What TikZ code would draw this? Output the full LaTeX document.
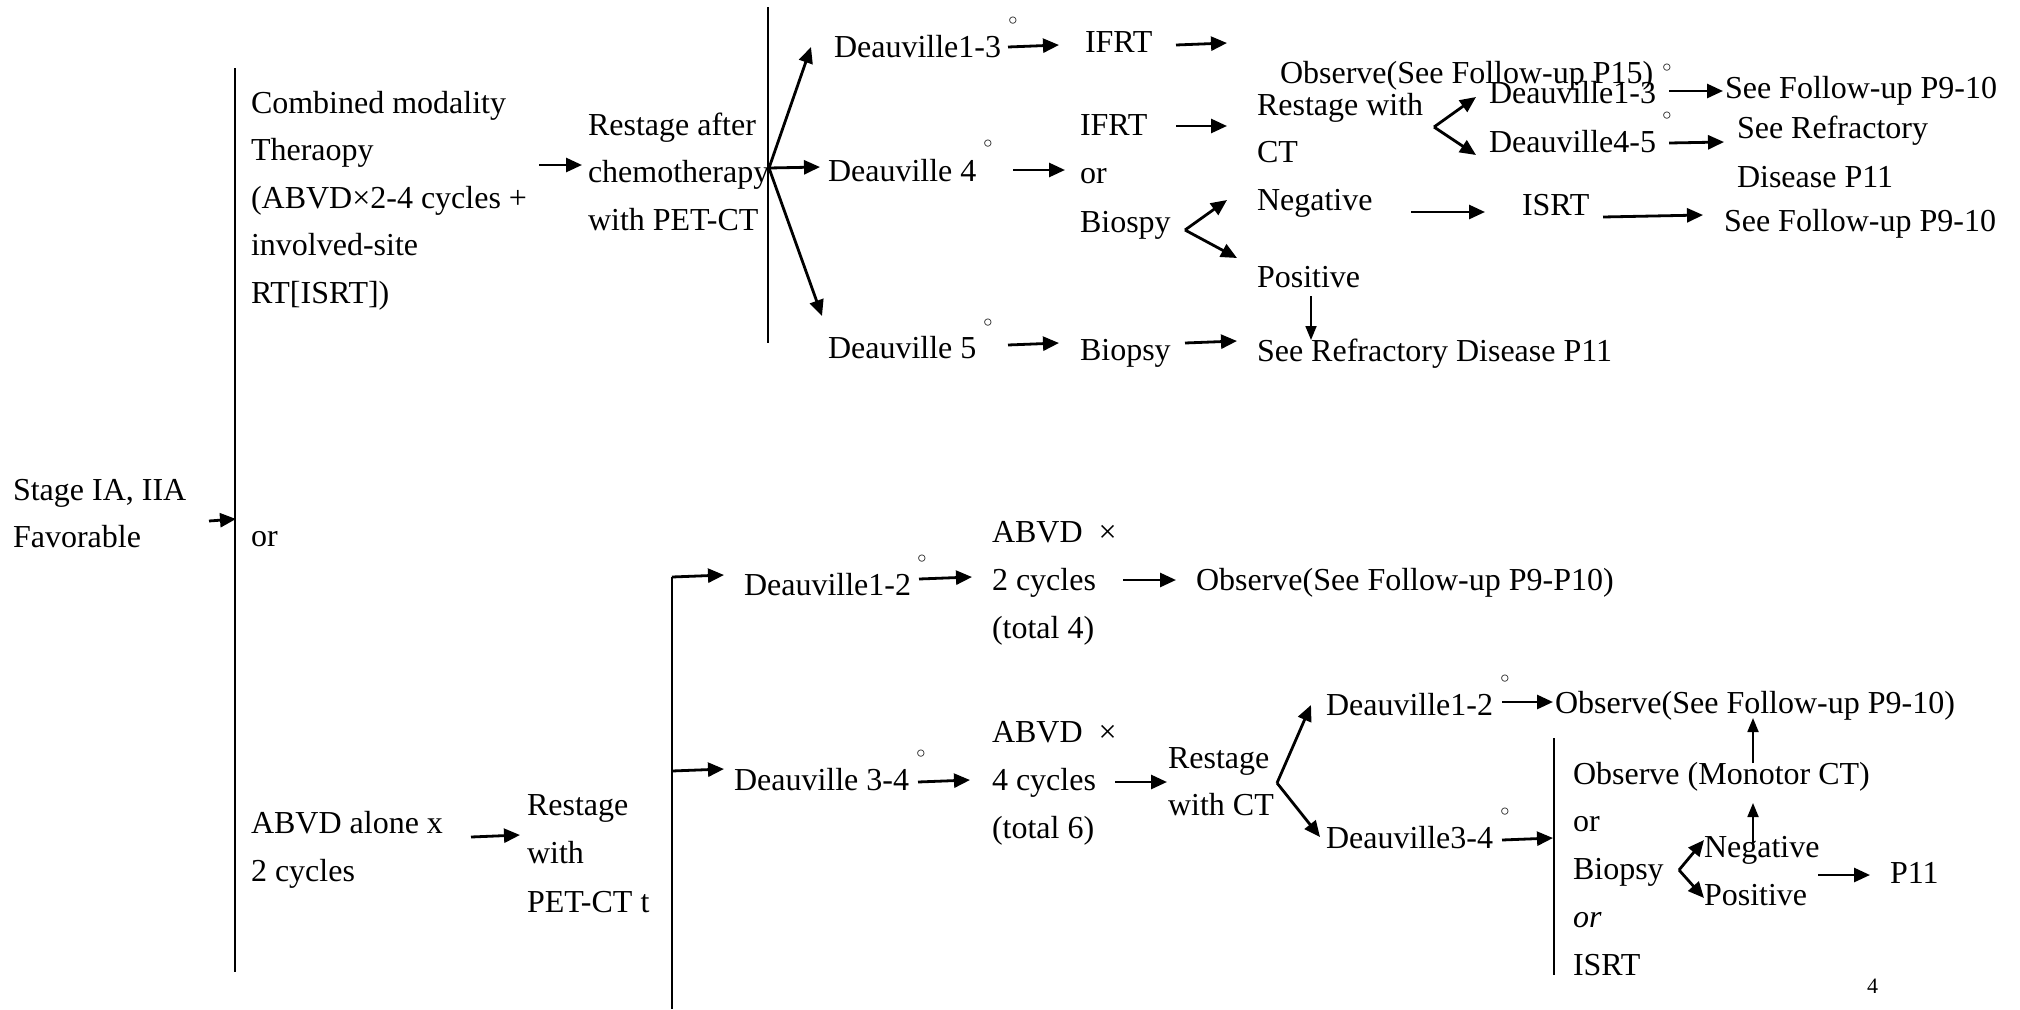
\documentclass[tikz,border=0pt]{standalone}
\usepackage{fontspec}
\setmainfont{Liberation Serif}
\newfontfamily\dotfont{DejaVu Sans}
\usetikzlibrary{arrows.meta}

% a left-aligned block of lines whose baseline is that of its first line
\newcommand\mlines[2]{\fontsize{32}{#1}\selectfont\begin{tabular}[t]{@{}l@{}}#2\end{tabular}}

\tikzset{
  txt/.style={anchor=base west, inner sep=0pt, outer sep=0pt, font=\fontsize{32}{40}\selectfont},
  deg/.style={inner sep=0pt, font=\dotfont\fontsize{24}{24}\selectfont},
  rule/.style={line width=1.6pt},
  arr/.style={line width=2.8pt, -{Triangle[length=16pt,width=14pt]}},
  thinarr/.style={line width=1.8pt, -{Triangle[length=14pt,width=11pt]}},
}

\begin{document}
\begin{tikzpicture}[x=1pt,y=-1pt]
\fill[white] (0,0) rectangle (2020,1009);
\useasboundingbox (0,0) rectangle (2020,1009);

% ---------- left column ----------
\node[txt] (stage) at (13,500) {\mlines{47}{Stage IA, IIA\\Favorable}};
\node[txt] (comb)  at (251,113) {\mlines{47.5}{Combined modality\\Theraopy\\(ABVD×2-4 cycles +\\involved-site\\RT[ISRT])}};
\node[txt] (or1)   at (251,546) {or};
\node[txt] (abvdA) at (251,833) {\mlines{48}{ABVD alone x\\2 cycles}};

% ---------- upper branch ----------
\node[txt] (restA) at (588,135) {\mlines{47.5}{Restage after\\chemotherapy\\with PET-CT}};
\node[txt] (d13)   at (834,57)  {Deauville1-3};
\node[txt] (d4)    at (828,181) {Deauville 4};
\node[txt] (d5)    at (828,358) {Deauville 5};
\node[txt] (ifrtA) at (1085,52) {IFRT};
\node[txt] (ifrtB) at (1080,135) {\mlines{48.5}{IFRT\\or\\Biospy}};
\node[txt] (bio5)  at (1080,360) {Biopsy};
\node[txt] (obs15) at (1280,83) {Observe(See Follow-up P15)};
\node[txt] (restCT) at (1257,115) {\mlines{47}{Restage with\\CT}};
\node[txt] (neg)   at (1257,210) {Negative};
\node[txt] (pos)   at (1257,287) {Positive};
\node[txt] (refrB) at (1257,361) {See Refractory Disease P11};
\node[txt] (d13b)  at (1489,103) {Deauville1-3};
\node[txt] (d45)   at (1489,152) {Deauville4-5};
\node[txt] (isrt)  at (1522,215) {ISRT};
\node[txt] (fu1)   at (1725,98)  {See Follow-up P9-10};
\node[txt] (refrA) at (1737,138) {\mlines{49}{See Refractory\\Disease P11}};
\node[txt] (fu2)   at (1724,231) {See Follow-up P9-10};

% ---------- lower branch ----------
\node[txt] (restP) at (527,815) {\mlines{48.5}{Restage\\with\\PET-CT t}};
\node[txt] (d12)   at (744,595) {Deauville1-2};
\node[txt] (d34)   at (734,790) {Deauville 3-4};
\node[txt] (abvd2) at (992,542) {\mlines{48}{ABVD\enspace×\\2 cycles\\(total 4)}};
\node[txt] (abvd4) at (992,742) {\mlines{48}{ABVD\enspace×\\4 cycles\\(total 6)}};
\node[txt] (obs4)  at (1196,590) {Observe(See Follow-up P9-P10)};
\node[txt] (restC) at (1168,768) {\mlines{47}{Restage\\with CT}};
\node[txt] (d12b)  at (1326,715) {Deauville1-2};
\node[txt] (d34b)  at (1326,848) {Deauville3-4};
\node[txt] (obs5)  at (1555,713) {Observe(See Follow-up P9-10)};
\node[txt] (opts)  at (1573,784) {\mlines{47.75}{Observe (Monotor CT)\\or\\Biopsy\\\textit{or}\\ISRT}};
\node[txt] (neg2)  at (1704,857) {Negative};
\node[txt] (pos2)  at (1704,905) {Positive};
\node[txt] (p11)   at (1890,883) {P11};
\node[txt, font=\fontsize{22}{26}\selectfont] (page) at (1867,993) {4};

% ---------- small circle marks ----------
\node[deg] (m1) at (1013,23)  {◦};
\node[deg] (m2) at (988,146)  {◦};
\node[deg] (m3) at (988,325)  {◦};
\node[deg] (m4) at (1667,70)  {◦};
\node[deg] (m5) at (1667,118) {◦};
\node[deg] (m6) at (922,561)  {◦};
\node[deg] (m7) at (921,756)  {◦};
\node[deg] (m8) at (1505,681) {◦};
\node[deg] (m9) at (1505,814) {◦};

% ---------- bracket lines ----------
\coordinate (mainT) at (235,68);   \coordinate (mainB) at (235,972);
\coordinate (fanT)  at (768,7);    \coordinate (fanB)  at (768,343);
\coordinate (petT)  at (672,577);  \coordinate (petB)  at (672,1009);
\coordinate (optT)  at (1554,738); \coordinate (optB)  at (1554,975);
\draw[rule] (mainT) -- (mainB);
\draw[rule] (fanT) -- (fanB);
\draw[rule] (petT) -- (petB);
\draw[rule] (optT) -- (optB);

% ---------- connector end points ----------
\coordinate (s0) at (209,521);   \coordinate (e0) at (236,519);
\coordinate (s1) at (539,165);   \coordinate (e1) at (582,165);
\coordinate (fan) at (769,168);
\coordinate (f1) at (811,47);    \coordinate (f2) at (820,167);   \coordinate (f3) at (822,316);
\coordinate (s4) at (1008,47);   \coordinate (e4) at (1059,45);
\coordinate (s5) at (1176,45);   \coordinate (e5) at (1227,43);
\coordinate (s6) at (1176,126);  \coordinate (e6) at (1227,126);
\coordinate (s7) at (1013,170);  \coordinate (e7) at (1065,170);
\coordinate (k1) at (1434,127);  \coordinate (k1u) at (1476,97);  \coordinate (k1d) at (1476,155);
\coordinate (s9) at (1669,91);   \coordinate (e9) at (1723,91);
\coordinate (s10) at (1669,143); \coordinate (e10) at (1724,142);
\coordinate (k2) at (1185,230);  \coordinate (k2u) at (1227,200); \coordinate (k2d) at (1237,258);
\coordinate (s12) at (1411,212); \coordinate (e12) at (1485,212);
\coordinate (s13) at (1603,217); \coordinate (e13) at (1703,215);
\coordinate (s14) at (1311,296); \coordinate (e14) at (1311,340);
\coordinate (s15) at (1008,345); \coordinate (e15) at (1059,343);
\coordinate (s16) at (1185,343); \coordinate (e16) at (1237,341);
\coordinate (s17) at (471,837);  \coordinate (e17) at (520,835);
\coordinate (b1) at (672,577);   \coordinate (e18) at (724,575);
\coordinate (b2) at (672,771);   \coordinate (e19) at (724,769);
\coordinate (s20) at (919,579);  \coordinate (e20) at (972,577);
\coordinate (s21) at (1123,580); \coordinate (e21) at (1176,580);
\coordinate (s22) at (918,782);  \coordinate (e22) at (970,780);
\coordinate (s23) at (1115,782); \coordinate (e23) at (1167,782);
\coordinate (k3) at (1277,783);  \coordinate (k3u) at (1311,705); \coordinate (k3d) at (1320,837);
\coordinate (s25) at (1502,702); \coordinate (e25) at (1553,702);
\coordinate (s26) at (1502,840); \coordinate (e26) at (1553,838);
\coordinate (s27) at (1753,763); \coordinate (e27) at (1753,718);
\coordinate (s28) at (1753,845); \coordinate (e28) at (1753,803);
\coordinate (k4) at (1679,870);  \coordinate (k4u) at (1704,840); \coordinate (k4d) at (1704,898);
\coordinate (s30) at (1818,875); \coordinate (e30) at (1870,875);

% ---------- connectors ----------
\draw[arr] (s0) -- (e0);
\draw[arr] (s1) -- (e1);
\draw[arr] (fan) -- (f1);
\draw[arr] (fan) -- (f2);
\draw[arr] (fan) -- (f3);
\draw[arr] (s4) -- (e4);
\draw[arr] (s5) -- (e5);
\draw[arr] (s6) -- (e6);
\draw[arr] (s7) -- (e7);
\draw[arr] (k1) -- (k1u);
\draw[arr] (k1) -- (k1d);
\draw[arr] (s9) -- (e9);
\draw[arr] (s10) -- (e10);
\draw[arr] (k2) -- (k2u);
\draw[arr] (k2) -- (k2d);
\draw[arr] (s12) -- (e12);
\draw[arr] (s13) -- (e13);
\draw[thinarr] (s14) -- (e14);
\draw[arr] (s15) -- (e15);
\draw[arr] (s16) -- (e16);
\draw[arr] (s17) -- (e17);
\draw[arr] (b1) -- (e18);
\draw[arr] (b2) -- (e19);
\draw[arr] (s20) -- (e20);
\draw[arr] (s21) -- (e21);
\draw[arr] (s22) -- (e22);
\draw[arr] (s23) -- (e23);
\draw[arr] (k3) -- (k3u);
\draw[arr] (k3) -- (k3d);
\draw[arr] (s25) -- (e25);
\draw[arr] (s26) -- (e26);
\draw[thinarr] (s27) -- (e27);
\draw[thinarr] (s28) -- (e28);
\draw[arr] (k4) -- (k4u);
\draw[arr] (k4) -- (k4d);
\draw[arr] (s30) -- (e30);
\end{tikzpicture}
\end{document}
